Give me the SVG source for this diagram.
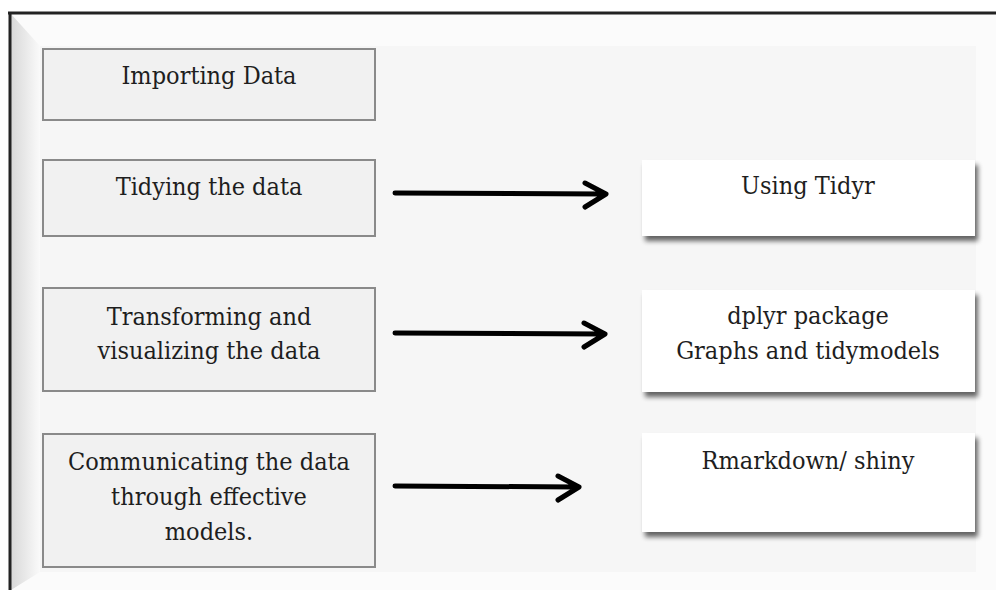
<svg xmlns="http://www.w3.org/2000/svg" width="996" height="590" viewBox="0 0 996 590">
<defs>
<style>
.t{font-family:'DejaVu Serif Condensed','DejaVu Serif',serif;font-size:25px;fill:#1e1e1e;text-anchor:middle}
.lb{fill:#f1f1f1;stroke:#8a8a8a;stroke-width:2}
.rb{fill:#ffffff}
.ar{stroke:#000;stroke-width:5;fill:none;stroke-linecap:round;stroke-linejoin:round}
</style>
<filter id="sh" x="-5%" y="-10%" width="115%" height="130%">
<feGaussianBlur in="SourceAlpha" stdDeviation="2.5"/>
<feOffset dx="3" dy="5" result="b"/>
<feComponentTransfer><feFuncA type="linear" slope="0.6"/></feComponentTransfer>
<feMerge><feMergeNode/><feMergeNode in="SourceGraphic"/></feMerge>
</filter>
<linearGradient id="bevL" x1="0" x2="1" y1="0" y2="0"><stop offset="0" stop-color="#d8d8d8"/><stop offset="1" stop-color="#fafafa"/></linearGradient>
</defs>
<rect x="0" y="0" width="996" height="590" fill="#ffffff"/>
<g id="frame">
<rect x="10" y="13" width="986" height="577" fill="#fbfbfb"/>
<polygon points="11,14 40,46 40,572 11,590" fill="url(#bevL)"/>
<rect x="40" y="46" width="936" height="526" fill="#f6f6f6"/>
<line x1="8" y1="13" x2="996" y2="13" stroke="#222" stroke-width="3"/>
<line x1="10" y1="12" x2="10" y2="590" stroke="#222" stroke-width="3"/>
</g>
<g id="n1"><rect class="lb" x="43" y="49" width="332" height="71"/><text class="t" x="209" y="84">Importing Data</text></g>
<g id="n2"><rect class="lb" x="43" y="160" width="332" height="76"/><text class="t" x="209" y="195">Tidying the data</text></g>
<g id="n3"><rect class="lb" x="43" y="288" width="332" height="103"/><text class="t" x="209" y="325">Transforming and</text><text class="t" x="209" y="359">visualizing the data</text></g>
<g id="n4"><rect class="lb" x="43" y="434" width="332" height="133"/><text class="t" x="209" y="470">Communicating the data</text><text class="t" x="209" y="505">through effective</text><text class="t" x="209" y="540">models.</text></g>
<g id="n5"><rect class="rb" x="642" y="160" width="333" height="76" filter="url(#sh)"/><text class="t" x="808" y="194">Using Tidyr</text></g>
<g id="n6"><rect class="rb" x="642" y="290" width="333" height="102" filter="url(#sh)"/><text class="t" x="808" y="324">dplyr package</text><text class="t" x="808" y="359">Graphs and tidymodels</text></g>
<g id="n7"><rect class="rb" x="642" y="433" width="333" height="99" filter="url(#sh)"/><text class="t" x="808" y="469">Rmarkdown/ shiny</text></g>
<g id="connectors">
<path class="ar" d="M395,193 L604,194 M585,183 L606,194 L585,207"/>
<path class="ar" d="M395,333 L603,334 M584,323 L605,334 L584,347"/>
<path class="ar" d="M395,486 L577,487 M558,476 L579,487 L558,500"/>
</g>
</svg>
